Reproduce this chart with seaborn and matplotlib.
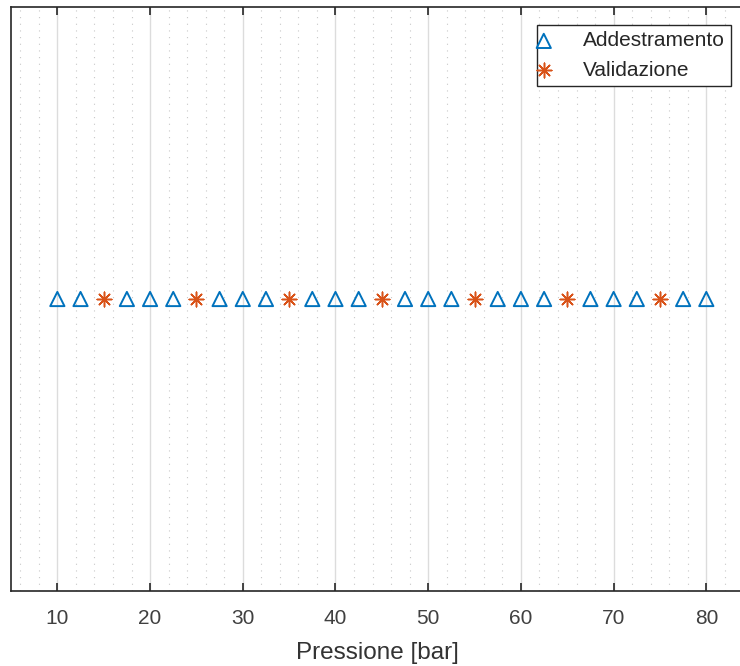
import matplotlib
matplotlib.use("Agg")
import matplotlib.pyplot as plt
from matplotlib.ticker import MultipleLocator
import numpy as np
import pandas as pd
import seaborn as sns

# Pressure levels used for training and for validation
pressione_addestramento = [10, 12.5, 17.5, 20, 22.5, 27.5, 30, 32.5, 37.5, 40, 42.5,
                           47.5, 50, 52.5, 57.5, 60, 62.5, 67.5, 70, 72.5, 77.5, 80]
pressione_validazione = [15, 25, 35, 45, 55, 65, 75]
xticks = [10, 20, 30, 40, 50, 60, 70, 80]

df_add = pd.DataFrame({"Pressione": pressione_addestramento,
                       "y": np.zeros(len(pressione_addestramento))})
df_val = pd.DataFrame({"Pressione": pressione_validazione,
                       "y": np.zeros(len(pressione_validazione))})

sns.set_theme(style="white")
plt.rcParams["font.family"] = ["Liberation Sans", "DejaVu Sans"]

blu = "#0072BD"
arancio = "#D95319"

fig = plt.figure(figsize=(7.4, 6.66), dpi=100)
ax = fig.add_axes([11 / 740, 1 - 591 / 666, 732.4 / 740, 584 / 666])

sns.scatterplot(data=df_add, x="Pressione", y="y", ax=ax, marker="^", s=105,
                facecolors="none", edgecolor=blu, linewidth=1.4,
                label="Addestramento", zorder=3)
sns.scatterplot(data=df_val, x="Pressione", y="y", ax=ax, marker=(8, 2, 0), s=110,
                color=arancio, edgecolor=arancio, linewidth=1.1,
                label="Validazione", zorder=3)

ax.set_xlim(5, 84)
ax.set_ylim(-1, 1)
ax.set_xticks(xticks)
ax.xaxis.set_minor_locator(MultipleLocator(2))
ax.set_yticks([])
ax.set_ylabel("")
ax.set_xlabel("Pressione [bar]", fontsize=17.5, color="#333333", labelpad=10)

ax.grid(False)
ax.xaxis.grid(True, which="major", color="#DCDCDC", linewidth=1.0, linestyle="-")
ax.xaxis.grid(True, which="minor", color="#C8C8C8", linewidth=0.8, linestyle=(0, (1, 5)))
ax.set_axisbelow(True)

ax.tick_params(axis="x", which="major", direction="in", length=6, width=1.2,
               color="#262626", labelsize=15, labelcolor="#404040", pad=13,
               top=True, bottom=True)
ax.tick_params(axis="x", which="minor", length=0)
for side in ["left", "bottom", "top", "right"]:
    ax.spines[side].set_color("#262626")
    ax.spines[side].set_linewidth(1.2)

leg = ax.legend(loc="upper right", bbox_to_anchor=(0.983, 0.969),
                bbox_transform=ax.transAxes,
                frameon=True, fancybox=False, framealpha=1, edgecolor="#262626",
                fontsize=15, handletextpad=1.85, borderpad=0.3, labelspacing=0.5,
                handlelength=0.05, borderaxespad=0)
leg.get_frame().set_linewidth(1.0)
for t in leg.get_texts():
    t.set_color("#262626")

fig.savefig("out.png", dpi=100)
